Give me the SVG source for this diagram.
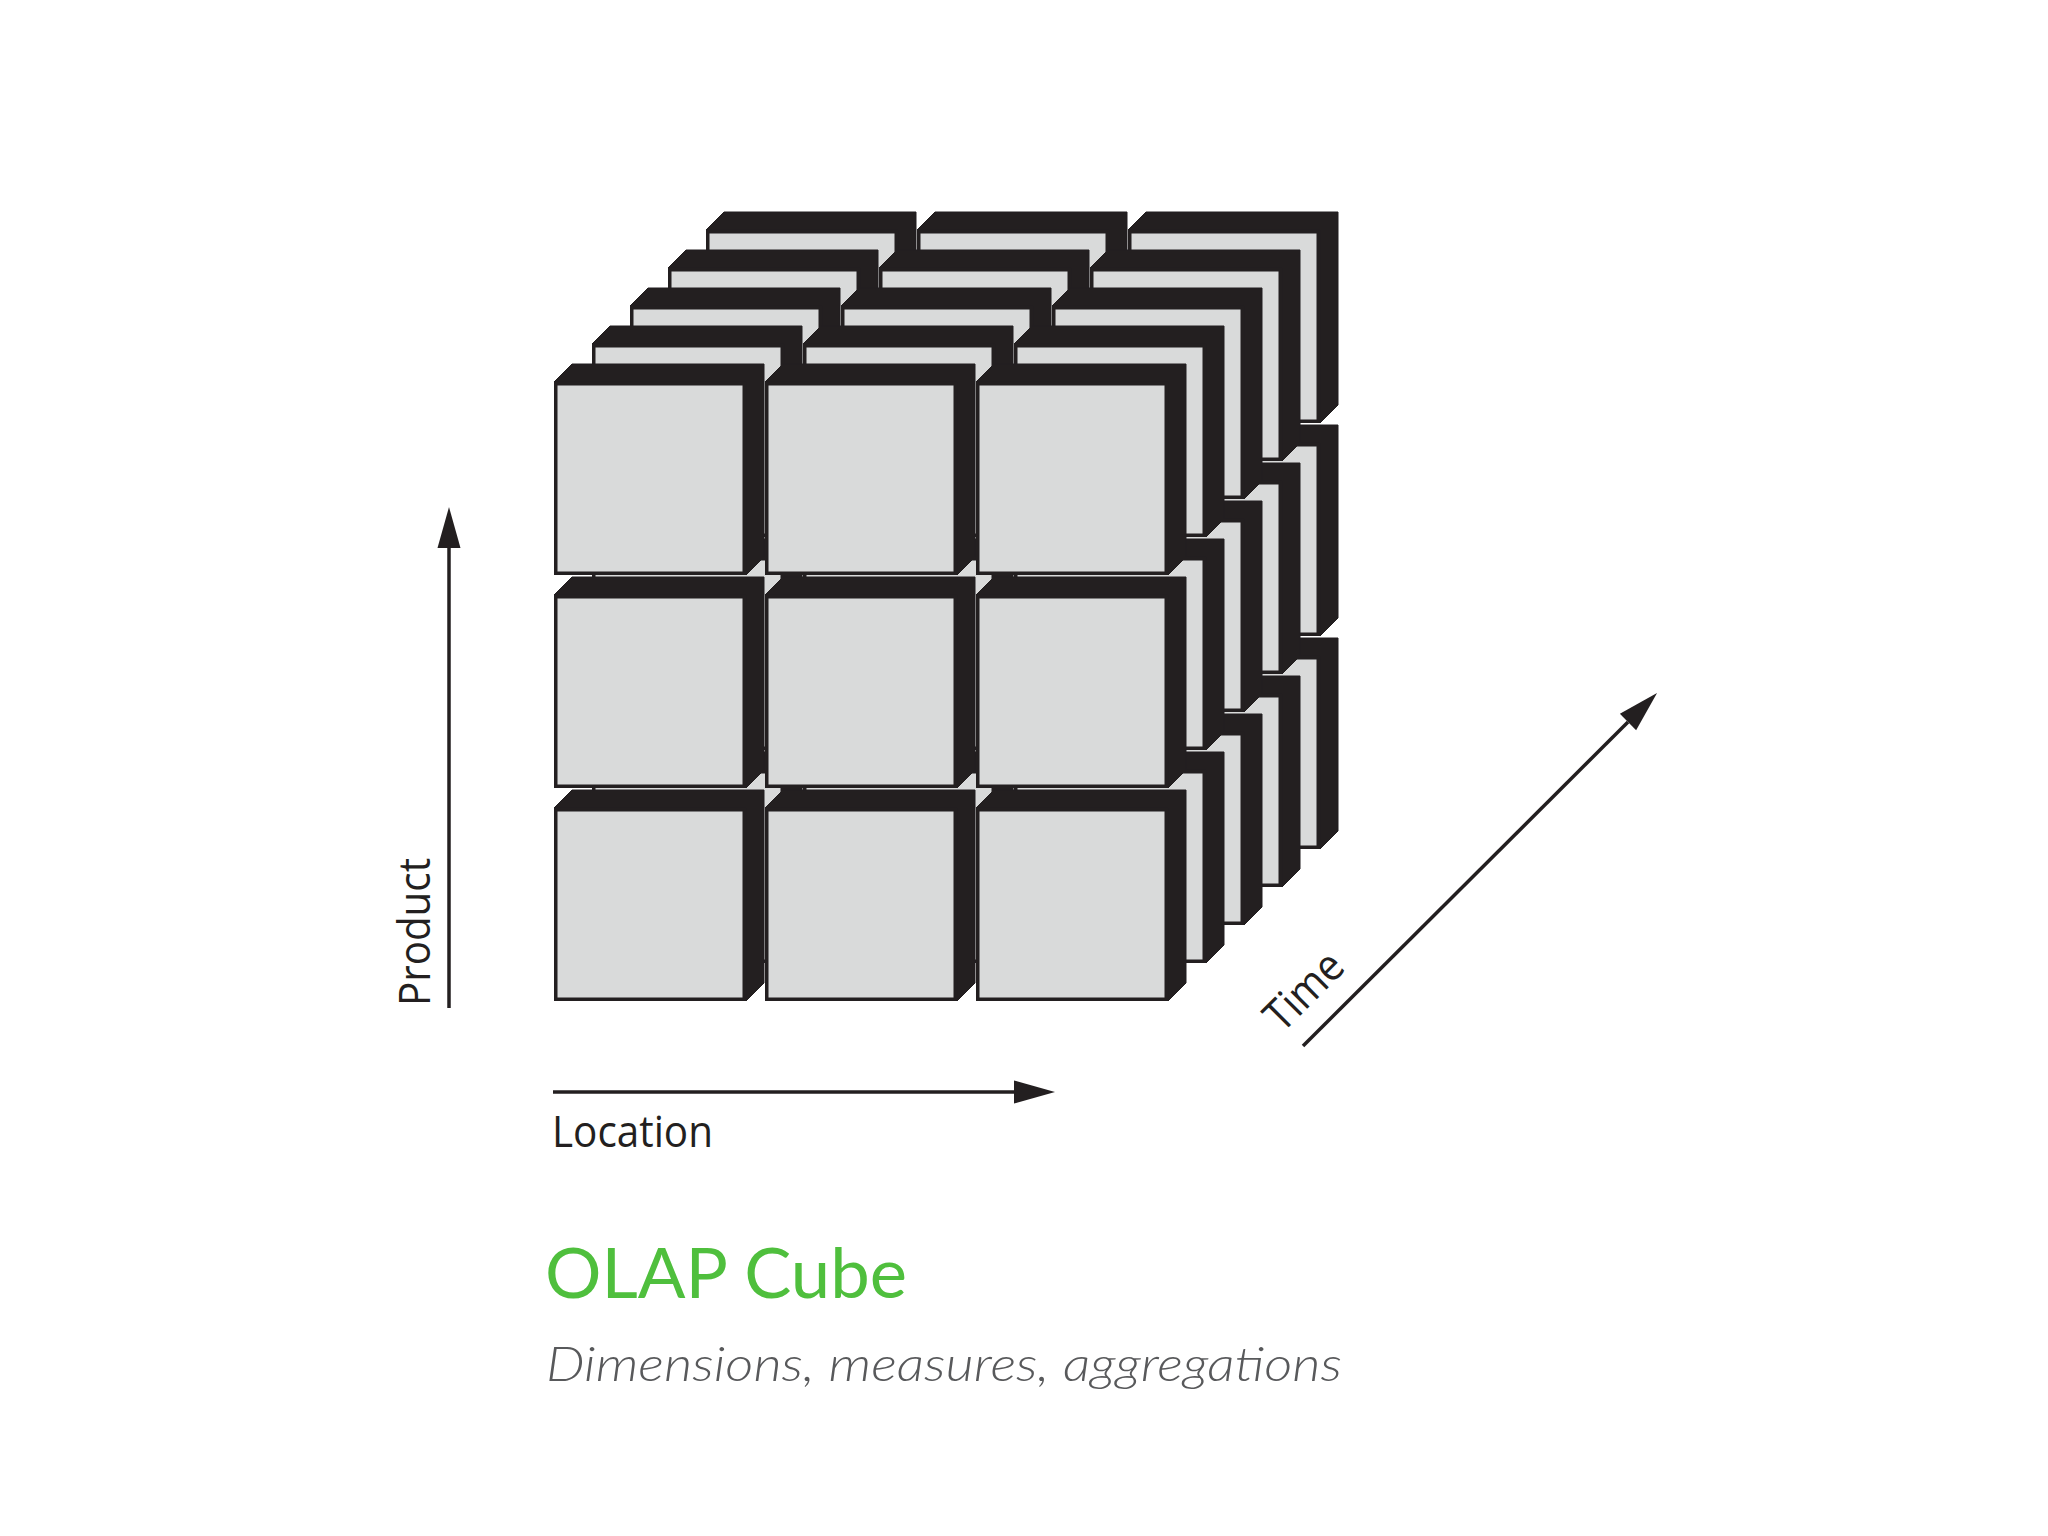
<svg xmlns="http://www.w3.org/2000/svg" xmlns:xlink="http://www.w3.org/1999/xlink" width="2048" height="1536" viewBox="0 0 2048 1536">
<style>
.dk{fill:#231f20;stroke:#231f20;stroke-width:1;stroke-linejoin:round}
.fc{fill:#d9dada;stroke:#231f20;stroke-width:3.5}
.ax{stroke:#231f20;stroke-width:3.5;fill:none}
.lbl{font-family:"Open Sans","Noto Sans",sans-serif;font-size:44px;fill:#231f20}
.title{font-family:Lato,"Open Sans",sans-serif;font-size:70px;fill:#4fbf3d}
.sub{font-family:Lato,"Open Sans",sans-serif;font-style:italic;font-weight:300;font-size:48px;fill:#58595b}
</style>
<defs>
<g id="cell">
<polygon class="dk" points="0,0 18,-18 210,-18 192,0"/>
<polygon class="dk" points="192,0 210,-18 210,175 192,193"/>
<rect class="fc" x="1.75" y="1.75" width="188.5" height="189.5"/>
</g>
<marker id="head" markerUnits="userSpaceOnUse" markerWidth="42" markerHeight="24" viewBox="0 0 42 24" refX="0" refY="12" orient="auto" overflow="visible">
<path d="M0,0.5 L41,12 L0,23.5 z" fill="#231f20"/>
</marker>
</defs>
<rect width="2048" height="1536" fill="#ffffff"/>
<g id="cube">
<g id="layer5">
<use id="n-5-3-1" xlink:href="#cell" x="706" y="656"/>
<use id="n-5-3-2" xlink:href="#cell" x="917" y="656"/>
<use id="n-5-3-3" xlink:href="#cell" x="1128" y="656"/>
<use id="n-5-2-1" xlink:href="#cell" x="706" y="443"/>
<use id="n-5-2-2" xlink:href="#cell" x="917" y="443"/>
<use id="n-5-2-3" xlink:href="#cell" x="1128" y="443"/>
<use id="n-5-1-1" xlink:href="#cell" x="706" y="230"/>
<use id="n-5-1-2" xlink:href="#cell" x="917" y="230"/>
<use id="n-5-1-3" xlink:href="#cell" x="1128" y="230"/>
</g>
<g id="layer4">
<use id="n-4-3-1" xlink:href="#cell" x="668" y="694"/>
<use id="n-4-3-2" xlink:href="#cell" x="879" y="694"/>
<use id="n-4-3-3" xlink:href="#cell" x="1090" y="694"/>
<use id="n-4-2-1" xlink:href="#cell" x="668" y="481"/>
<use id="n-4-2-2" xlink:href="#cell" x="879" y="481"/>
<use id="n-4-2-3" xlink:href="#cell" x="1090" y="481"/>
<use id="n-4-1-1" xlink:href="#cell" x="668" y="268"/>
<use id="n-4-1-2" xlink:href="#cell" x="879" y="268"/>
<use id="n-4-1-3" xlink:href="#cell" x="1090" y="268"/>
</g>
<g id="layer3">
<use id="n-3-3-1" xlink:href="#cell" x="630" y="732"/>
<use id="n-3-3-2" xlink:href="#cell" x="841" y="732"/>
<use id="n-3-3-3" xlink:href="#cell" x="1052" y="732"/>
<use id="n-3-2-1" xlink:href="#cell" x="630" y="519"/>
<use id="n-3-2-2" xlink:href="#cell" x="841" y="519"/>
<use id="n-3-2-3" xlink:href="#cell" x="1052" y="519"/>
<use id="n-3-1-1" xlink:href="#cell" x="630" y="306"/>
<use id="n-3-1-2" xlink:href="#cell" x="841" y="306"/>
<use id="n-3-1-3" xlink:href="#cell" x="1052" y="306"/>
</g>
<g id="layer2">
<use id="n-2-3-1" xlink:href="#cell" x="592" y="770"/>
<use id="n-2-3-2" xlink:href="#cell" x="803" y="770"/>
<use id="n-2-3-3" xlink:href="#cell" x="1014" y="770"/>
<use id="n-2-2-1" xlink:href="#cell" x="592" y="557"/>
<use id="n-2-2-2" xlink:href="#cell" x="803" y="557"/>
<use id="n-2-2-3" xlink:href="#cell" x="1014" y="557"/>
<use id="n-2-1-1" xlink:href="#cell" x="592" y="344"/>
<use id="n-2-1-2" xlink:href="#cell" x="803" y="344"/>
<use id="n-2-1-3" xlink:href="#cell" x="1014" y="344"/>
</g>
<g id="layer1">
<use id="n-1-3-1" xlink:href="#cell" x="554" y="808"/>
<use id="n-1-3-2" xlink:href="#cell" x="765" y="808"/>
<use id="n-1-3-3" xlink:href="#cell" x="976" y="808"/>
<use id="n-1-2-1" xlink:href="#cell" x="554" y="595"/>
<use id="n-1-2-2" xlink:href="#cell" x="765" y="595"/>
<use id="n-1-2-3" xlink:href="#cell" x="976" y="595"/>
<use id="n-1-1-1" xlink:href="#cell" x="554" y="382"/>
<use id="n-1-1-2" xlink:href="#cell" x="765" y="382"/>
<use id="n-1-1-3" xlink:href="#cell" x="976" y="382"/>
</g>
</g>
<g id="connectors">
<line id="axis-product" class="ax" x1="449" y1="1008" x2="449" y2="548" marker-end="url(#head)"/>
<line id="axis-location" class="ax" x1="553" y1="1092" x2="1014" y2="1092" marker-end="url(#head)"/>
<line id="axis-time" class="ax" x1="1303" y1="1046" x2="1628" y2="722" marker-end="url(#head)"/>
</g>
<g id="labels">
<text class="lbl" transform="translate(430,1006) rotate(-90)" textLength="148" lengthAdjust="spacingAndGlyphs">Product</text>
<text class="lbl" x="552" y="1147" textLength="161" lengthAdjust="spacingAndGlyphs">Location</text>
<text class="lbl" transform="translate(1282,1034) rotate(-45)" textLength="92" lengthAdjust="spacingAndGlyphs">Time</text>
<text class="title" x="545" y="1298" textLength="362" lengthAdjust="spacingAndGlyphs">OLAP Cube</text>
<text class="sub" x="546" y="1381" textLength="796" lengthAdjust="spacingAndGlyphs">Dimensions, measures, aggregations</text>
</g>
</svg>
